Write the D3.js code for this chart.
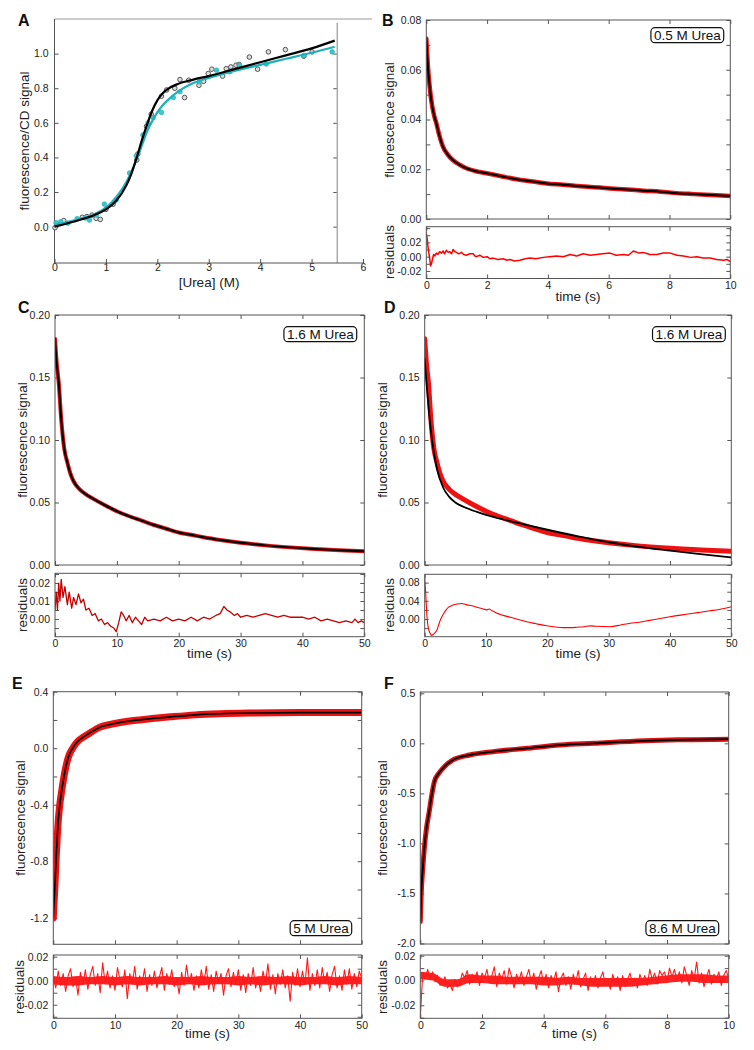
<!DOCTYPE html>
<html lang="en">
<head>
	<meta charset="utf-8">
	<title>Urea unfolding and kinetics</title>
	<script src="https://cdnjs.cloudflare.com/ajax/libs/d3/7.8.5/d3.min.js"></script>
	<style>
		body {
			margin: 0;
			background: #fff;
			font-family: "Liberation Sans", Arial, sans-serif;
		}
		.tick text { font-size: 10.5px; fill: #222; font-family: "Liberation Sans", Arial, sans-serif; }
		.tick line { stroke: #555; }
		.ttl { font-size: 13.5px; fill: #222; }
		.letter { font-size: 16px; font-weight: bold; fill: #111; }
		.tag { font-size: 13.5px; fill: #111; }
	</style>
</head>
<body>
<script>
// ---- panel A: equilibrium titration ----
var ureaBlack = [0.01,0.18,0.54,0.63,0.73,0.81,0.89,1.0,1.14,1.6,1.62,1.79,1.88,2.08,2.18,2.34,2.44,2.53,2.61,2.81,2.90,2.99,3.06,3.27,3.34,3.43,3.53,3.59,3.79,3.95,4.16,4.49,4.85,5.01];
var sigBlack  = [-0.006,0.035,0.054,0.058,0.067,0.048,0.042,0.10,0.13,0.385,0.42,0.58,0.65,0.754,0.79,0.80,0.85,0.746,0.846,0.817,0.84,0.885,0.91,0.87,0.913,0.923,0.933,0.937,0.98,0.91,1.01,1.023,0.985,1.01];
var ureaCyan  = [0.03,0.12,0.26,0.44,0.6,0.68,0.82,0.97,1.2,1.46,1.59,1.72,1.82,1.92,2.08,2.31,2.44,2.82,3.15,3.41,3.6,4.12,4.85,5.4];
var sigCyan   = [0.023,0.028,0.02,0.046,0.05,0.038,0.067,0.13,0.154,0.31,0.41,0.53,0.60,0.63,0.66,0.746,0.78,0.837,0.904,0.895,0.933,0.94,0.99,1.01];
var fitUrea   = [0,0.5,0.8,1.0,1.2,1.4,1.5,1.6,1.7,1.8,1.9,2.0,2.1,2.2,2.4,2.7,3.0,3.5,4.0,4.5,5.0,5.45];
var fitBlack  = [0.0,0.04,0.07,0.10,0.15,0.24,0.31,0.40,0.50,0.59,0.67,0.73,0.77,0.795,0.825,0.85,0.87,0.91,0.95,0.99,1.03,1.075];
var fitCyan   = [0.01,0.045,0.075,0.11,0.17,0.26,0.32,0.39,0.47,0.55,0.61,0.66,0.70,0.73,0.78,0.83,0.86,0.90,0.935,0.97,1.005,1.04];

// ---- panel B: 0.5 M urea ----
var bTime   = [0,0.03,0.06,0.1,0.15,0.2,0.27,0.33,0.42,0.55,0.7,0.88,1.1,1.32,1.6,1.98,2.5,2.97,3.5,3.96,4.5,4.95,5.5,6.04,6.6,7.14,7.7,8.24,8.8,9.4,10];
var bSignal = [0.0726,0.066,0.060,0.0546,0.049,0.045,0.041,0.0385,0.034,0.029,0.026,0.0236,0.0218,0.0204,0.0193,0.0184,0.0171,0.016,0.0151,0.0143,0.0138,0.0133,0.0128,0.0123,0.0119,0.0114,0.011,0.0104,0.01,0.0096,0.0092];
var bResT = [0,0.03,0.055,0.08,0.11,0.14,0.17,0.19,0.22,0.24,0.28,0.33,0.38,0.44,0.5,0.55,0.6,0.66,0.72,0.77,0.83,0.88,0.94,0.99,1.07,1.15,1.23,1.32,1.43,1.54,1.6,1.65,1.76,1.87,2.0,2.1,2.2,2.35,2.53,2.65,2.75,2.9,3.08,3.25,3.41,3.6,3.85,4.05,4.29,4.5,4.73,4.95,5.16,5.4,5.6,5.8,6.04,6.25,6.48,6.65,6.81,7.0,7.14,7.35,7.58,7.8,8.02,8.25,8.46,8.7,8.9,9.1,9.34,9.55,9.78,9.9,10];
var bResV = [0.033,0.025,0.014,0.006,-0.002,-0.013,-0.010,-0.006,0.000,0.003,0.001,0.005,0.003,0.007,0.005,0.008,0.004,0.009,0.006,0.007,0.004,0.010,0.007,0.006,0.004,0.006,0.003,0.002,0.004,0.004,0.001,0.000,0.002,-0.001,0.000,-0.003,-0.002,-0.004,-0.003,-0.005,-0.004,-0.006,-0.005,-0.003,-0.002,-0.003,-0.001,0.000,0.001,0.000,0.003,0.001,0.004,0.002,0.003,0.004,0.005,0.002,0.003,0.002,0.008,0.005,0.006,0.003,0.003,0.005,0.005,0.002,0.001,-0.001,0.000,-0.002,-0.002,-0.004,-0.005,-0.004,-0.007];

// ---- panels C and D: 1.6 M urea (same trace, two fits) ----
var cdTime   = [0,0.3,0.6,1,1.5,2,2.5,3,4,5,6,8,10,12,14,16,18,20,22,24,27,30,34,38,42,46,50];
var cdSignal = [0.181,0.160,0.146,0.117,0.093,0.082,0.073,0.067,0.0605,0.0565,0.0535,0.048,0.043,0.039,0.0355,0.032,0.029,0.026,0.0242,0.0222,0.0198,0.0178,0.0157,0.0141,0.0128,0.0118,0.011];
var dFitTime = [0,0.3,0.6,1,1.5,2,3,4,5,6.5,8.5,10,13,16,20,25,30,35,40,45,50];
var dFit     = [0.165,0.145,0.128,0.108,0.09,0.077,0.062,0.0545,0.05,0.0462,0.0425,0.0401,0.0362,0.0327,0.0282,0.0229,0.0182,0.0145,0.0115,0.0087,0.006];
var cResT = [0,0.2,0.4,0.6,0.8,1.0,1.3,1.6,2.0,2.3,2.7,3.0,3.4,3.8,4.2,4.6,5.0,5.5,6.0,6.5,7.0,7.5,8.0,8.5,9.0,9.5,9.9,10.3,10.7,11.1,11.5,12,12.5,13,13.5,14,14.5,15,16,17,18,19,20,21,22,23,24,25,26,26.7,27.3,27.8,28.3,29,29.5,30,31,32,33,34,35,36,37,38,39,40,41,42,43,44,45,46,47,48,48.5,49,49.5,50];
var cResV = [0.005,0.015,0.005,0.020,0.010,0.022,0.012,0.018,0.008,0.015,0.006,0.012,0.008,0.014,0.009,0.011,0.005,0.006,0.002,0.003,-0.001,0.000,-0.003,-0.002,-0.004,-0.005,-0.007,-0.002,0.004,0.002,-0.001,0.002,-0.002,0.001,-0.001,-0.003,0.001,-0.001,0.000,-0.001,0.001,-0.001,0.000,-0.001,0.001,-0.001,0.001,0.000,0.002,0.003,0.007,0.005,0.004,0.002,0.003,0.001,0.002,0.001,0.002,0.003,0.002,0.001,0.002,0.001,0.001,0.001,0.000,0.001,-0.001,0.000,-0.001,-0.002,-0.001,-0.002,0.000,-0.002,-0.001,-0.002];
var dResT = [0,0.15,0.37,0.6,0.92,1.15,1.35,1.7,2.0,2.3,2.5,2.8,3.1,3.5,3.9,4.5,5.3,6.0,6.9,7.7,8.5,9.3,10.1,10.5,11,11.7,12.8,13.9,15,16.6,18,19.9,21,22.6,24,24.8,26,27,28,30.2,32,33.5,35,36.7,38,40,42,43.8,45,46.5,48,50];
var dResV = [0.089,0.06,0.005,-0.02,-0.032,-0.036,-0.034,-0.03,-0.024,-0.012,-0.004,0.005,0.012,0.02,0.026,0.03,0.033,0.034,0.031,0.029,0.026,0.023,0.02,0.022,0.018,0.013,0.008,0.004,0.0,-0.006,-0.01,-0.015,-0.017,-0.019,-0.019,-0.018,-0.017,-0.015,-0.016,-0.017,-0.013,-0.0095,-0.007,-0.003,0.0,0.005,0.009,0.0125,0.015,0.018,0.021,0.027];

// ---- panel E: 5 M urea ----
var eTime   = [0,0.05,0.2,0.44,0.6,0.81,1.0,1.3,1.62,2.0,2.43,3.24,4.0,4.86,6.0,7.57,10,13,16,19,23,27,32,40,50];
var eSignal = [-1.2,-1.15,-1.03,-0.8,-0.66,-0.51,-0.42,-0.32,-0.229,-0.14,-0.064,0.007,0.05,0.078,0.11,0.149,0.175,0.196,0.21,0.222,0.236,0.244,0.249,0.252,0.252];
var eResV = [0.002,-0.006,0.008,-0.004,0.006,-0.009,0.004,0.010,-0.005,0.003,-0.012,0.007,-0.003,0.009,-0.007,0.005,0.012,-0.004,0.006,-0.010,
	0.015,-0.002,0.008,-0.006,0.004,-0.008,0.011,0.001,-0.005,0.009,-0.015,0.006,-0.003,0.012,-0.007,0.004,-0.002,0.010,-0.009,0.005,
	-0.004,0.008,-0.006,0.003,0.011,-0.008,0.006,-0.003,0.009,-0.005,0.002,-0.011,0.007,-0.004,0.013,-0.002,0.006,-0.008,0.004,-0.006,
	0.009,-0.003,0.012,-0.007,0.005,-0.009,0.008,-0.002,0.006,-0.012,0.004,0.010,-0.005,0.007,-0.003,0.009,-0.008,0.005,-0.010,0.006,
	-0.004,0.011,-0.006,0.003,-0.009,0.008,-0.002,0.014,-0.007,0.005,-0.011,0.006,-0.003,0.009,-0.006,0.004,-0.017,0.007,-0.004,0.010,
	-0.005,0.008,-0.003,0.019,-0.008,0.006,-0.004,0.009,-0.006,0.011,-0.002,0.007,-0.009,0.005,0.012,-0.006,0.004,-0.008,0.009,-0.003,
	0.010,-0.007,0.006,-0.005,0.008,0.002];
// dense core of the E residual band, every 2 s
var eBandHi = [0.004,0.003,0.004,0.003,0.004,0.003,0.004,0.003,0.003,0.004,0.003,0.003,0.004,0.003,0.003,0.004,0.003,0.004,0.003,0.004,0.003,0.003,0.004,0.003,0.004,0.003];
var eBandLo = [-0.003,-0.004,-0.004,-0.003,-0.003,-0.004,-0.003,-0.004,-0.003,-0.003,-0.004,-0.003,-0.004,-0.003,-0.003,-0.004,-0.003,-0.004,-0.003,-0.003,-0.004,-0.003,-0.003,-0.004,-0.003,-0.003];

// ---- panel F: 8.6 M urea ----
var fTime   = [0,0.03,0.08,0.13,0.2,0.29,0.38,0.46,0.6,0.73,1.06,1.6,2.36,3.45,4.54,5.63,7.26,8.35,10];
var fSignal = [-1.78,-1.5,-1.25,-1.05,-0.85,-0.68,-0.5,-0.38,-0.3,-0.25,-0.166,-0.117,-0.083,-0.05,-0.017,0.0,0.025,0.035,0.042];
var fResV = [-0.030,0.006,0.002,0.009,0.001,0.007,-0.001,0.004,-0.004,-0.002,0.003,-0.006,-0.003,-0.008,0.001,-0.005,-0.002,0.006,0.002,0.008,
	-0.003,0.005,0.001,0.007,-0.004,0.006,0.002,0.009,-0.002,0.004,0.011,-0.005,0.006,0.001,0.008,-0.003,0.010,0.003,-0.006,0.005,
	0.000,0.007,-0.004,0.003,0.009,-0.002,0.006,-0.007,0.002,0.008,-0.003,0.005,-0.006,0.004,-0.001,0.007,-0.009,0.002,0.006,-0.004,
	0.003,-0.007,0.005,-0.002,0.008,-0.005,0.001,0.006,-0.008,0.003,-0.003,0.004,-0.006,0.002,0.007,-0.004,0.000,-0.007,0.005,-0.002,
	0.003,-0.008,0.004,-0.005,0.001,0.006,-0.003,0.002,-0.006,0.005,-0.001,0.004,-0.004,0.009,0.001,0.006,-0.003,0.008,0.004,0.007,
	-0.001,0.010,0.003,0.009,0.000,0.007,-0.002,0.011,0.004,-0.004,0.008,0.001,0.015,-0.002,0.006,-0.005,0.003,0.009,-0.003,0.005,
	0.001,0.007,-0.004,0.004,0.008,0.002];
// dense core of the F residual band, every 0.4 s
var fBandHi = [0.007,0.006,0.001,0.001,0.005,0.004,0.004,0.003,0.003,0.003,0.003,0.002,0.003,0.002,0.002,0.002,0.002,0.002,0.002,0.003,0.004,0.005,0.005,0.005,0.004,0.004];
var fBandLo = [0.001,0.000,-0.005,-0.005,-0.002,-0.002,-0.003,-0.003,-0.003,-0.003,-0.004,-0.004,-0.003,-0.004,-0.005,-0.005,-0.005,-0.005,-0.004,-0.003,-0.002,-0.001,-0.001,-0.002,-0.002,-0.002];

var urea = ["0.5 M Urea", "1.6 M Urea", "1.6 M Urea", "5 M Urea", "8.6 M Urea"];

// evenly sampled residual times for E and F
var eResT  = eResV.map(function(d, i) { return i * 50 / (eResV.length - 1); });
var fResT  = fResV.map(function(d, i) { return i * 10 / (fResV.length - 1); });
var eBandT = eBandHi.map(function(d, i) { return i * 2; });
var fBandT = fBandHi.map(function(d, i) { return i * 0.4; });

var svg = d3.select("body").append("svg")
	.attr("width", 754)
	.attr("height", 1050);

var clipN = 0;

function has(list, d) {
	return list.some(function(v) { return Math.abs(v - d) < 1e-9; });
}

function zip(xs, ys) {
	return xs.map(function(d, i) { return [d, ys[i]]; });
}

// framed panel with inward ticks on all four sides
function frame(box, xDom, yDom, o) {
	var x = d3.scaleLinear().domain(xDom).range([box.l, box.r]);
	var y = d3.scaleLinear().domain(yDom).range([box.b, box.t]);
	var g = svg.append("g");
	var id = "clip" + (clipN++);
	svg.append("clipPath").attr("id", id).append("rect")
		.attr("x", box.l).attr("y", box.t)
		.attr("width", box.r - box.l).attr("height", box.b - box.t);

	function clean(sel) { sel.select(".domain").remove(); }

	g.append("g").attr("transform", "translate(" + box.l + ",0)")
		.call(d3.axisLeft(y).tickValues(o.yTicks).tickSize(-4).tickPadding(5)
			.tickFormat(function(d) { return has(o.yLab, d) ? d.toFixed(o.yDec) : ""; }))
		.call(clean);
	g.append("g").attr("transform", "translate(" + box.r + ",0)")
		.call(d3.axisRight(y).tickValues(o.yTicks).tickSize(-4).tickFormat(""))
		.call(clean);
	g.append("g").attr("transform", "translate(0," + box.t + ")")
		.call(d3.axisTop(x).tickValues(o.xTicks).tickSize(-4).tickFormat(""))
		.call(clean);
	g.append("g").attr("transform", "translate(0," + box.b + ")")
		.call(d3.axisBottom(x).tickValues(o.xTicks).tickSize(-4).tickPadding(3)
			.tickFormat(function(d) { return o.xLab ? String(d) : ""; }))
		.call(clean);

	var plot = g.append("g").attr("clip-path", "url(#" + id + ")");

	g.append("rect")
		.attr("x", box.l).attr("y", box.t)
		.attr("width", box.r - box.l).attr("height", box.b - box.t)
		.attr("fill", "none").attr("stroke", "#555").attr("stroke-width", 1);

	return { x: x, y: y, g: g, plot: plot, box: box };
}

function yTitle(txt, cx, cy) {
	svg.append("text").attr("class", "ttl")
		.attr("transform", "translate(" + cx + "," + cy + ") rotate(-90)")
		.attr("text-anchor", "middle").attr("dy", "0.35em")
		.text(txt);
}

function xTitle(txt, cx, base) {
	svg.append("text").attr("class", "ttl")
		.attr("x", cx).attr("y", base)
		.attr("text-anchor", "middle")
		.text(txt);
}

function letter(txt, lx, ly) {
	svg.append("text").attr("class", "letter").attr("x", lx).attr("y", ly).text(txt);
}

function tag(txt, right, top) {
	var t = svg.append("text").attr("class", "tag")
		.attr("y", top + 12).attr("text-anchor", "end").attr("x", right - 3)
		.text(txt);
	var w = t.node().getComputedTextLength();
	svg.append("rect")
		.attr("x", right - w - 6).attr("y", top)
		.attr("width", w + 6).attr("height", 15)
		.attr("rx", 4).attr("fill", "#fff")
		.attr("stroke", "#111").attr("stroke-width", 1.2);
	t.raise();
}

function trace(p, xs, ys, color, width, curve) {
	p.plot.append("path")
		.datum(zip(xs, ys))
		.attr("fill", "none")
		.attr("stroke", color)
		.attr("stroke-width", width)
		.attr("stroke-linejoin", "round")
		.attr("stroke-linecap", "round")
		.attr("d", d3.line()
			.x(function(d) { return p.x(d[0]); })
			.y(function(d) { return p.y(d[1]); })
			.curve(curve || d3.curveLinear));
}

function band(p, xs, hi, lo, color) {
	p.plot.append("path")
		.datum(xs.map(function(d, i) { return [d, hi[i], lo[i]]; }))
		.attr("fill", color)
		.attr("d", d3.area()
			.x(function(d) { return p.x(d[0]); })
			.y0(function(d) { return p.y(d[2]); })
			.y1(function(d) { return p.y(d[1]); })
			.curve(d3.curveMonotoneX));
}

// ---------- A ----------
(function() {
	var box = { l: 54.5, r: 363, t: 19, b: 263 };
	var x = d3.scaleLinear().domain([0, 6]).range([box.l, box.r]);
	var y = d3.scaleLinear().domain([-0.21, 1.2]).range([box.b, box.t]);
	var g = svg.append("g");

	g.append("line").attr("x1", box.l).attr("x2", 372).attr("y1", box.t).attr("y2", box.t)
		.attr("stroke", "#999");
	g.append("g").attr("transform", "translate(" + x(5.5) + ",0)")
		.call(d3.axisRight(y).tickValues([0, 0.2, 0.4, 0.6, 0.8, 1.0]).tickSize(-4).tickFormat(""))
		.call(function(s) { s.select(".domain").remove(); s.selectAll("line").attr("stroke", "#999"); });
	g.append("line").attr("x1", x(5.5)).attr("x2", x(5.5)).attr("y1", 23).attr("y2", box.b)
		.attr("stroke", "#aaa").attr("stroke-width", 1.5);

	g.append("g").attr("transform", "translate(" + box.l + ",0)")
		.call(d3.axisLeft(y).tickValues([0, 0.2, 0.4, 0.6, 0.8, 1.0]).tickSize(-4).tickPadding(6)
			.tickFormat(function(d) { return d.toFixed(1); }))
		.call(function(s) { s.select(".domain").remove(); });
	g.append("g").attr("transform", "translate(0," + box.b + ")")
		.call(d3.axisBottom(x).tickValues([0, 1, 2, 3, 4, 5, 6]).tickSize(-4).tickPadding(1)
			.tickFormat(function(d) { return String(d); }))
		.call(function(s) { s.select(".domain").remove(); });
	g.append("line").attr("x1", box.l).attr("x2", box.l).attr("y1", box.t).attr("y2", box.b).attr("stroke", "#555");
	g.append("line").attr("x1", box.l).attr("x2", box.r).attr("y1", box.b).attr("y2", box.b).attr("stroke", "#555");

	var line = d3.line().x(function(d) { return x(d[0]); }).y(function(d) { return y(d[1]); }).curve(d3.curveMonotoneX);

	g.selectAll("circle.blk").data(zip(ureaBlack, sigBlack)).enter().append("circle")
		.attr("cx", function(d) { return x(d[0]); }).attr("cy", function(d) { return y(d[1]); })
		.attr("r", 2.3).attr("fill", "#ddd").attr("stroke", "#555").attr("stroke-width", 1);
	g.selectAll("circle.cyn").data(zip(ureaCyan, sigCyan)).enter().append("circle")
		.attr("cx", function(d) { return x(d[0]); }).attr("cy", function(d) { return y(d[1]); })
		.attr("r", 2.3).attr("fill", "#3fc6cf").attr("stroke", "#2bb3bd").attr("stroke-width", 0.8);

	g.append("path").datum(zip(fitUrea, fitCyan)).attr("fill", "none")
		.attr("stroke", "#1fb0b9").attr("stroke-width", 2.2).attr("d", line);
	g.append("path").datum(zip(fitUrea, fitBlack)).attr("fill", "none")
		.attr("stroke", "#000").attr("stroke-width", 2.2).attr("d", line);

	yTitle("fluorescence/CD signal", 24, 141);
	xTitle("[Urea] (M)", 209, 287);
	letter("A", 18, 26);
})();

// ---------- B ----------
var bMain = frame({ l: 426.3, r: 730.3, t: 20, b: 219 }, [0, 10], [0, 0.08],
	{ xTicks: [0, 2, 4, 6, 8, 10], yTicks: [0, 0.01, 0.02, 0.03, 0.04, 0.05, 0.06, 0.07, 0.08], yLab: [0, 0.02, 0.04, 0.06, 0.08], yDec: 2 });
trace(bMain, bTime, bSignal, "#ee1111", 4.5, d3.curveMonotoneX);
trace(bMain, bTime, bSignal, "#000", 2, d3.curveMonotoneX);
var bRes = frame({ l: 426.3, r: 730.3, t: 226.7, b: 278.5 }, [0, 10], [-0.0306, 0.042],
	{ xTicks: [0, 2, 4, 6, 8, 10], xLab: true, yTicks: [-0.03, -0.02, -0.01, 0, 0.01, 0.02, 0.03, 0.04], yLab: [-0.02, 0, 0.02], yDec: 2 });
trace(bRes, bResT, bResV, "#ff0000", 1.5);
yTitle("fluorescence signal", 389, 120);
yTitle("residuals", 389, 252);
xTitle("time (s)", 578, 301);
letter("B", 382, 26);
tag(urea[0], 723.7, 27.7);

// ---------- C ----------
var cMain = frame({ l: 55, r: 364.3, t: 315, b: 565 }, [0, 50], [0, 0.2],
	{ xTicks: [0, 10, 20, 30, 40, 50], yTicks: [0, 0.05, 0.1, 0.15, 0.2], yLab: [0, 0.05, 0.1, 0.15, 0.2], yDec: 2 });
trace(cMain, cdTime, cdSignal, "#dd1111", 4, d3.curveMonotoneX);
trace(cMain, cdTime, cdSignal, "#000", 2, d3.curveMonotoneX);
var cRes = frame({ l: 55, r: 364.3, t: 573.3, b: 636.7 }, [0, 50], [-0.0098, 0.0254],
	{ xTicks: [0, 10, 20, 30, 40, 50], xLab: true, yTicks: [-0.005, 0, 0.005, 0.01, 0.015, 0.02, 0.025], yLab: [0, 0.01, 0.02], yDec: 2 });
trace(cRes, cResT, cResV, "#c40000", 1.3);
yTitle("fluorescence signal", 22, 440);
yTitle("residuals", 22, 605);
xTitle("time (s)", 209.6, 658);
letter("C", 18, 313);
tag(urea[1], 356.7, 326.7);

// ---------- D ----------
var dMain = frame({ l: 424.7, r: 731.3, t: 315, b: 565 }, [0, 50], [0, 0.2],
	{ xTicks: [0, 10, 20, 30, 40, 50], yTicks: [0, 0.05, 0.1, 0.15, 0.2], yLab: [0, 0.05, 0.1, 0.15, 0.2], yDec: 2 });
trace(dMain, cdTime, cdSignal, "#ee1111", 5, d3.curveMonotoneX);
trace(dMain, dFitTime, dFit, "#000", 1.8, d3.curveMonotoneX);
var dRes = frame({ l: 424.7, r: 731.3, t: 574.3, b: 636.7 }, [0, 50], [-0.0389, 0.0983],
	{ xTicks: [0, 10, 20, 30, 40, 50], xLab: true, yTicks: [-0.02, 0, 0.02, 0.04, 0.06, 0.08], yLab: [0, 0.04, 0.08], yDec: 2 });
trace(dRes, dResT, dResV, "#ff0000", 1.1, d3.curveMonotoneX);
yTitle("fluorescence signal", 382, 440);
yTitle("residuals", 389, 605);
xTitle("time (s)", 578, 658);
letter("D", 384, 313);
tag(urea[2], 725.3, 326.7);

// ---------- E ----------
var eMain = frame({ l: 53.3, r: 361.7, t: 691.7, b: 944.3 }, [0, 50], [-1.388, 0.4],
	{ xTicks: [0, 10, 20, 30, 40, 50], yTicks: [-1.2, -1.0, -0.8, -0.6, -0.4, -0.2, 0, 0.2, 0.4], yLab: [-1.2, -0.8, -0.4, 0, 0.4], yDec: 1 });
trace(eMain, eTime, eSignal, "#ee1111", 7, d3.curveMonotoneX);
trace(eMain, eTime, eSignal, "#000", 1.6, d3.curveMonotoneX);
var eRes = frame({ l: 53.3, r: 361.7, t: 955, b: 1018.3 }, [0, 50], [-0.0313, 0.0214],
	{ xTicks: [0, 10, 20, 30, 40, 50], xLab: true, yTicks: [-0.03, -0.02, -0.01, 0, 0.01, 0.02], yLab: [-0.02, 0, 0.02], yDec: 2 });
band(eRes, eBandT, eBandHi, eBandLo, "#f22");
trace(eRes, eResT, eResV, "#ff1a1a", 1.1);
yTitle("fluorescence signal", 20, 818);
yTitle("residuals", 19, 987);
xTitle("time (s)", 207.5, 1038);
letter("E", 12, 689);
tag(urea[3], 351.7, 920.7);

// ---------- F ----------
var fMain = frame({ l: 420.3, r: 728.7, t: 692, b: 944 }, [0, 10], [-2.005, 0.513],
	{ xTicks: [0, 2, 4, 6, 8, 10], yTicks: [-2.0, -1.5, -1.0, -0.5, 0, 0.5], yLab: [-2.0, -1.5, -1.0, -0.5, 0, 0.5], yDec: 1 });
trace(fMain, fTime, fSignal, "#dd1111", 5, d3.curveMonotoneX);
trace(fMain, fTime, fSignal, "#000", 1.8, d3.curveMonotoneX);
var fRes = frame({ l: 420.3, r: 728.7, t: 955, b: 1018.3 }, [0, 10], [-0.0305, 0.0206],
	{ xTicks: [0, 2, 4, 6, 8, 10], xLab: true, yTicks: [-0.03, -0.02, -0.01, 0, 0.01, 0.02], yLab: [-0.02, 0, 0.02], yDec: 2 });
band(fRes, fBandT, fBandHi, fBandLo, "#f22");
trace(fRes, fResT, fResV, "#ff1a1a", 1.1);
yTitle("fluorescence signal", 382, 818);
yTitle("residuals", 382, 987);
xTitle("time (s)", 574.5, 1038);
letter("F", 384, 689);
tag(urea[4], 718.7, 920.7);
</script>
</body>
</html>
